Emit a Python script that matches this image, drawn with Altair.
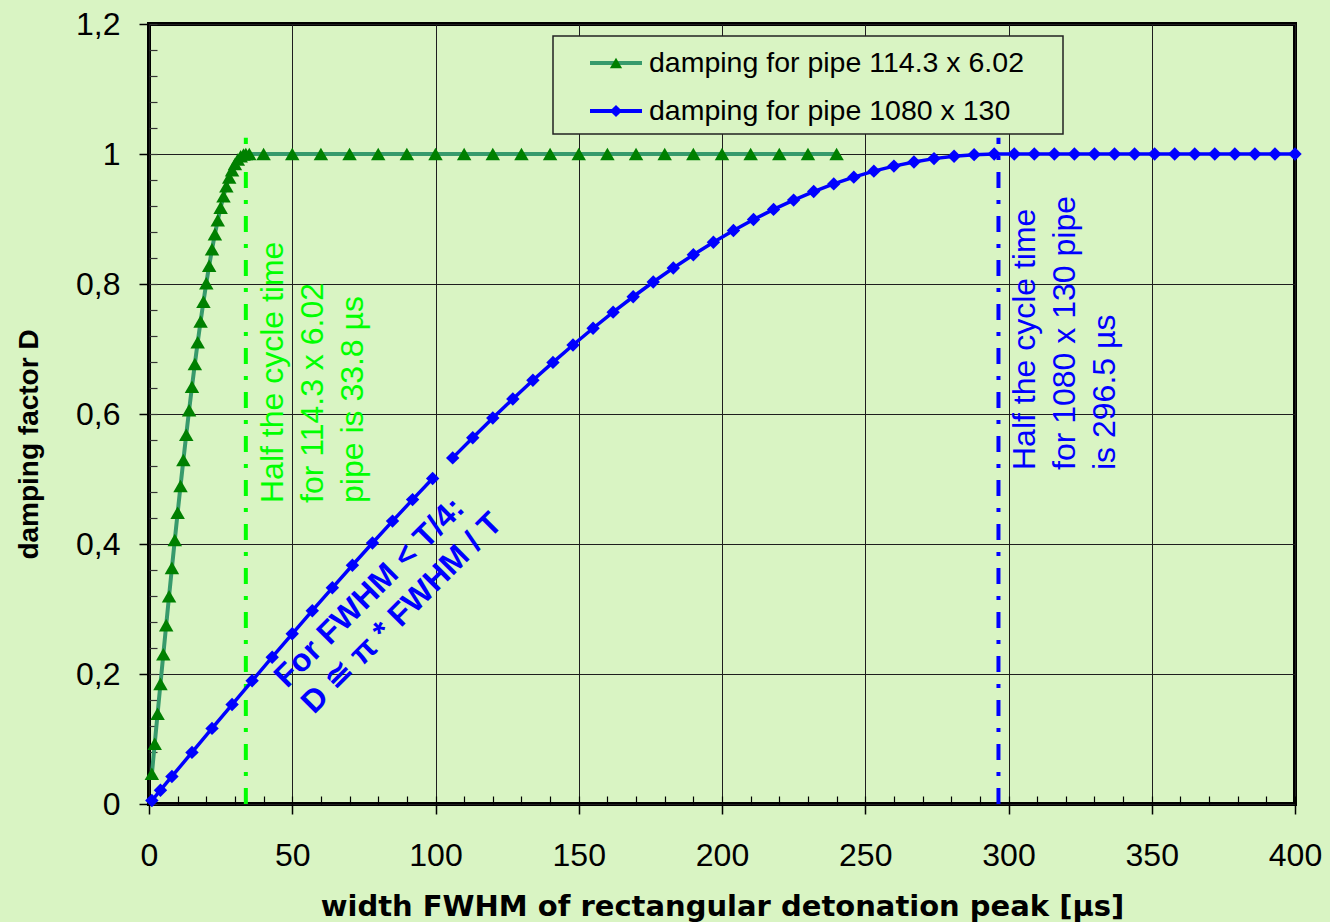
import altair as alt
import pandas as pd

SERIES_SMALL = "damping for pipe 114.3 x 6.02"
SERIES_LARGE = "damping for pipe 1080 x 130"

# Pulse width FWHM [µs] and damping factor D, pipe 114.3 x 6.02
small_fwhm = [1, 2, 3, 4, 5, 6, 7, 8, 9, 10, 11, 12, 13, 14, 15, 16, 17, 18, 19, 20,
              21, 22, 23, 24, 25, 26, 27, 28, 29, 30, 31, 32, 33, 33.8, 35,
              40, 50, 60, 70, 80, 90, 100, 110, 120, 130, 140, 150, 160, 170, 180,
              190, 200, 210, 220, 230, 240]
small_damping = [0.0464, 0.0928, 0.1390, 0.1848, 0.2303, 0.2752, 0.3196, 0.3633, 0.4062, 0.4482,
                 0.4892, 0.5292, 0.5681, 0.6057, 0.6420, 0.6769, 0.7104, 0.7423, 0.7727, 0.8013,
                 0.8282, 0.8534, 0.8767, 0.8981, 0.9175, 0.9350, 0.9505, 0.9639, 0.9752, 0.9845,
                 0.9916, 0.9965, 0.9993, 1.0, 1.0,
                 1.0, 1.0, 1.0, 1.0, 1.0, 1.0, 1.0, 1.0, 1.0, 1.0, 1.0, 1.0, 1.0, 1.0, 1.0,
                 1.0, 1.0, 1.0, 1.0, 1.0, 1.0]

# Pulse width FWHM [µs] and damping factor D, pipe 1080 x 130
large_fwhm = [1, 4, 8, 15, 22, 29, 36, 43, 50, 57, 64, 71, 78, 85, 92, 99,
              106, 113, 120, 127, 134, 141, 148, 155, 162, 169, 176, 183, 190, 197,
              204, 211, 218, 225, 232, 239, 246, 253, 260, 267, 274, 281, 288, 295,
              302, 309, 316, 323, 330, 337, 344, 351, 358, 365, 372, 379, 386, 393, 400]
large_damping = [0.0053, 0.0212, 0.0424, 0.0794, 0.1163, 0.1530, 0.1896, 0.2258, 0.2618, 0.2974,
                 0.3326, 0.3673, 0.4016, 0.4352, 0.4683, 0.5007,
                 0.5325, 0.5635, 0.5938, 0.6232, 0.6518, 0.6794, 0.7062, 0.7319, 0.7567, 0.7804,
                 0.8031, 0.8246, 0.8450, 0.8643, 0.8823, 0.8992, 0.9148, 0.9291, 0.9422, 0.9540,
                 0.9644, 0.9736, 0.9814, 0.9878, 0.9929, 0.9966, 0.9990, 1.0,
                 1.0, 1.0, 1.0, 1.0, 1.0, 1.0, 1.0, 1.0, 1.0, 1.0, 1.0, 1.0, 1.0, 1.0, 1.0]

# Half the oscillation period of each pipe [µs]
half_cycle_small = 33.8
half_cycle_large = 296.5

x_major = [0, 50, 100, 150, 200, 250, 300, 350, 400]
y_major = [0, 0.2, 0.4, 0.6, 0.8, 1.0, 1.2]
x_minor = list(range(0, 401, 10))
y_minor = [round(0.04 * i, 2) for i in range(31)]

BG = "#d9f4c3"
FONT = "Liberation Sans"
GREEN_LINE = "#379a6c"
GREEN_MARK = "#008000"
LIME = "#00ff00"
BLUE = "#0000ff"

small = pd.DataFrame({"fwhm": small_fwhm, "D": small_damping})
large = pd.DataFrame({"fwhm": large_fwhm, "D": large_damping})
large["part"] = (large["fwhm"] > 100).astype(int)  # the curve is drawn in two pieces
vline_small = pd.DataFrame({"fwhm": [half_cycle_small], "y0": [0.0], "y1": [1.025]})
vline_large = pd.DataFrame({"fwhm": [half_cycle_large], "y0": [0.0], "y1": [1.025]})
one = pd.DataFrame({"k": [0]})

xs = alt.Scale(domain=[0, 400], nice=False, zero=False)
ys = alt.Scale(domain=[0, 1.2], nice=False, zero=False)

major_x = alt.Axis(orient="bottom", values=x_major, grid=True, gridColor="#1e1e1e", gridWidth=1,
                   domain=False, ticks=True, tickSize=10, tickColor="#000", tickWidth=1.5,
                   labelFont=FONT, labelFontSize=32, labelColor="#000", labelPadding=26,
                   labelFlush=False, labelOverlap=False, format="d",
                   title="width FWHM of rectangular detonation peak [µs]",
                   titleFont="DejaVu Sans", titleFontSize=29, titleFontWeight="bold",
                   titleColor="#000", titleBaseline="alphabetic", titleY=111)
major_y = alt.Axis(orient="left", values=y_major, grid=True, gridColor="#1e1e1e", gridWidth=1,
                   domain=False, ticks=True, tickSize=10, tickColor="#000", tickWidth=1.5,
                   labelFont=FONT, labelFontSize=32, labelColor="#000", labelPadding=19,
                   labelFlush=False, labelOverlap=False,
                   labelExpr="replace(format(datum.value, '.1~f'), '.', ',')",
                   title="damping factor D", titleFont=FONT, titleFontSize=28,
                   titleFontWeight="bold", titleColor="#000", titleAngle=270,
                   titleBaseline="middle", titleAlign="center", titleX=-120, titleY=420)
minor_x = alt.Axis(orient="bottom", values=x_minor, grid=False, domain=False, labels=False,
                   ticks=True, tickSize=8, offset=-8, tickColor="#000", tickWidth=1.2, title=None)
minor_y = alt.Axis(orient="left", values=y_minor, grid=False, domain=False, labels=False,
                   ticks=True, tickSize=8, offset=-8, tickColor="#333", tickWidth=1.2, title=None)

axes_major = alt.Chart(small).mark_point(opacity=0).encode(
    x=alt.X("fwhm:Q", scale=xs, axis=major_x), y=alt.Y("D:Q", scale=ys, axis=major_y))
axes_minor = alt.Chart(small).mark_point(opacity=0).encode(
    x=alt.X("fwhm:Q", scale=xs, axis=minor_x), y=alt.Y("D:Q", scale=ys, axis=minor_y))

dash_small = alt.Chart(vline_small).mark_rule(
    color=LIME, strokeWidth=4, strokeDash=[16, 12, 4, 12]).encode(
    x=alt.X("fwhm:Q", scale=xs, axis=None),
    y=alt.Y("y0:Q", scale=ys, axis=None), y2="y1:Q")
dash_large = alt.Chart(vline_large).mark_rule(
    color=BLUE, strokeWidth=4, strokeDash=[16, 12, 4, 12]).encode(
    x=alt.X("fwhm:Q", scale=xs, axis=None),
    y=alt.Y("y0:Q", scale=ys, axis=None), y2="y1:Q")

small_line = alt.Chart(small).mark_line(color=GREEN_LINE, strokeWidth=4).encode(
    x=alt.X("fwhm:Q", scale=xs, axis=None), y=alt.Y("D:Q", scale=ys, axis=None))
small_pts = alt.Chart(small).mark_point(shape="triangle-up", filled=True, color=GREEN_MARK,
                                        size=210, opacity=1).encode(
    x=alt.X("fwhm:Q", scale=xs, axis=None), y=alt.Y("D:Q", scale=ys, axis=None))

large_line = alt.Chart(large).mark_line(color=BLUE, strokeWidth=3.5).encode(
    x=alt.X("fwhm:Q", scale=xs, axis=None), y=alt.Y("D:Q", scale=ys, axis=None),
    detail="part:N")
large_pts = alt.Chart(large).mark_point(shape="diamond", filled=True, color=BLUE,
                                        size=180, opacity=1).encode(
    x=alt.X("fwhm:Q", scale=xs, axis=None), y=alt.Y("D:Q", scale=ys, axis=None))

note_small = alt.Chart(one).mark_text(
    text=["Half the cycle time", "for 114.3 x 6.02", "pipe is 33.8 µs"],
    font=FONT, fontSize=32, color=LIME, angle=270, align="left", baseline="top",
    lineHeight=40).encode(x=alt.value(109), y=alt.value(479))
note_large = alt.Chart(one).mark_text(
    text=["Half the cycle time", "for 1080 x 130 pipe", "is 296.5 µs"],
    font=FONT, fontSize=32, color=BLUE, angle=270, align="left", baseline="top",
    lineHeight=40).encode(x=alt.value(861), y=alt.value(446))
note_rule1 = alt.Chart(one).mark_text(
    text="For FWHM < T/4:", font=FONT, fontSize=32, fontWeight="bold", color=BLUE,
    angle=315, align="left", baseline="alphabetic").encode(x=alt.value(138), y=alt.value(665))
note_rule2 = alt.Chart(one).mark_text(
    text="D ≅ π * FWHM / T", font=FONT, fontSize=32, fontWeight="bold", color=BLUE,
    angle=315, align="left", baseline="alphabetic").encode(x=alt.value(165), y=alt.value(691))

# legend box with line + marker samples
leg_box = alt.Chart(one).mark_rect(fill=BG, stroke="#222", strokeWidth=1.5).encode(
    x=alt.value(404), x2=alt.value(914), y=alt.value(12), y2=alt.value(110))
leg_small_line = alt.Chart(one).mark_rule(color=GREEN_LINE, strokeWidth=4).encode(
    x=alt.value(441), x2=alt.value(493), y=alt.value(39))
leg_small_pt = alt.Chart(one).mark_point(shape="triangle-up", filled=True, color=GREEN_MARK,
                                         size=150, opacity=1).encode(
    x=alt.value(467), y=alt.value(39))
leg_small_txt = alt.Chart(one).mark_text(
    text=SERIES_SMALL, font=FONT, fontSize=28.5, color="#000", align="left",
    baseline="middle").encode(x=alt.value(500), y=alt.value(39))
leg_large_line = alt.Chart(one).mark_rule(color=BLUE, strokeWidth=4).encode(
    x=alt.value(441), x2=alt.value(493), y=alt.value(87))
leg_large_pt = alt.Chart(one).mark_point(shape="diamond", filled=True, color=BLUE,
                                         size=150, opacity=1).encode(
    x=alt.value(467), y=alt.value(87))
leg_large_txt = alt.Chart(one).mark_text(
    text=SERIES_LARGE, font=FONT, fontSize=28.5, color="#000", align="left",
    baseline="middle").encode(x=alt.value(500), y=alt.value(87))

chart = alt.layer(
    axes_major, axes_minor, dash_small, dash_large,
    small_line, small_pts, large_line, large_pts,
    note_small, note_large, note_rule1, note_rule2,
    leg_box, leg_small_line, leg_small_pt, leg_small_txt,
    leg_large_line, leg_large_pt, leg_large_txt,
).resolve_axis(x="independent", y="independent").properties(
    width=1146, height=780,
    autosize=alt.AutoSizeParams(type="none"),
    padding={"left": 149, "top": 24, "right": 35, "bottom": 118},
).configure(background=BG, font=FONT).configure_view(stroke="#000", strokeWidth=4, fill=BG)

chart.save("out.html", embed_options={"renderer": "svg", "actions": False})
